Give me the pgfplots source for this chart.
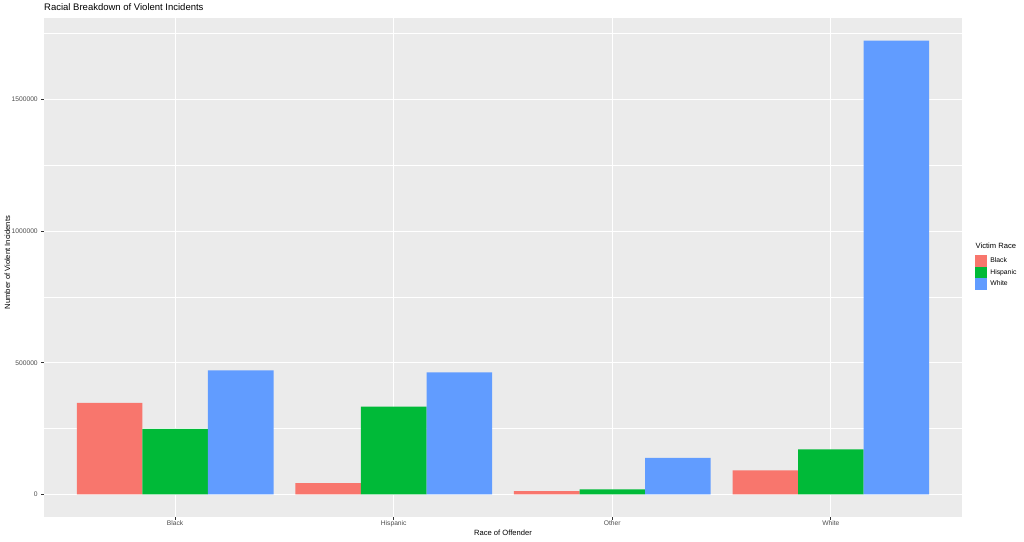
\documentclass[border=0pt]{standalone}
\usepackage{pgfplots}
\pgfplotsset{compat=1.18}
\usepackage{fontspec}
\setmainfont{Liberation Sans}

\definecolor{cBlack}{HTML}{F8766D}
\definecolor{cHisp}{HTML}{00BA38}
\definecolor{cWhite}{HTML}{619CFF}
\definecolor{panel}{HTML}{EBEBEB}
\definecolor{ticktext}{HTML}{4D4D4D}
\definecolor{tickline}{HTML}{333333}

% offender (1=Black,2=Hispanic,3=Other,4=White), victim counts
\pgfplotstableread{
x  black   hispanic  white
1  347000  248500    470800
2  42800   333300    463300
3  12500   19000     138600
4  91000   170500    1723500
}\incidents

\begin{document}
\begin{tikzpicture}
\path[use as bounding box] (0,0) rectangle (1024pt,541pt);
\begin{axis}[
  at={(44pt,24pt)}, anchor=south west,
  width=918pt, height=499pt, scale only axis,
  clip mode=individual,
  xmin=0.4, xmax=4.6,
  ymin=-86175, ymax=1809675,
  xtick={1,2,3,4},
  xticklabels={Black,Hispanic,Other,White},
  ytick={0,500000,1000000,1500000},
  minor ytick={250000,750000,1250000,1750000},
  scaled y ticks=false,
  /pgf/number format/fixed,
  /pgf/number format/1000 sep={},
  /pgf/number format/assume math mode=true,
  tick pos=left, tick align=outside,
  major tick length=2.75pt, minor tick length=0pt,
  tick style={color=tickline, line width=1.05pt},
  ticklabel style={font=\fontsize{6.7}{7}\selectfont, text=ticktext},
  xticklabel style={anchor=base, yshift=-5.95pt},
  axis line style={draw=none},
  axis background/.style={fill=panel},
  grid=both,
  major grid style={white, line width=1.1pt},
  minor grid style={white, line width=0.55pt},
  xmajorgrids=true, xminorgrids=false,
  title={Racial Breakdown of Violent Incidents},
  every axis title/.style={at={(axis description cs:0,1.0152)}, anchor=base west, inner sep=0pt,
    font=\fontsize{9.5}{11}\selectfont},
  xlabel={Race of Offender},
  every axis x label/.style={at={(axis description cs:0.5,-0.0375)}, anchor=base, inner sep=0pt,
    font=\fontsize{7.6}{9}\selectfont},
  ylabel={Number of Violent Incidents},
  every axis y label/.style={at={(axis description cs:-0.037,0.51)}, rotate=90, anchor=base, inner sep=0pt,
    font=\fontsize{7.6}{9}\selectfont},
  ybar=0pt, bar width=0.3,
  legend image code/.code={\fill[#1] (0pt,-5.85pt) rectangle (12pt,5.85pt);},
  legend cell align=left,
  legend style={at={(axis description cs:1.0142,0.49)}, anchor=west,
    draw=none, fill=none, inner sep=0pt, outer sep=0pt, row sep=0pt,
    font=\fontsize{6.8}{7}\selectfont,
    nodes={inner sep=0pt},
    /tikz/every odd column/.append style={column sep=3.3pt}},
]
\addplot[fill=cBlack, draw=none, bar shift=-0.3] table[x=x, y=black] {\incidents};
\addplot[fill=cHisp, draw=none, bar shift=0] table[x=x, y=hispanic] {\incidents};
\addplot[fill=cWhite, draw=none, bar shift=0.3] table[x=x, y=white] {\incidents};
\legend{Black,Hispanic,White}
\node[anchor=base west, inner sep=0pt, font=\fontsize{7.6}{9}\selectfont]
  at (axis description cs:1.0147,0.5377) {Victim Race};
\end{axis}
\end{tikzpicture}
\end{document}
